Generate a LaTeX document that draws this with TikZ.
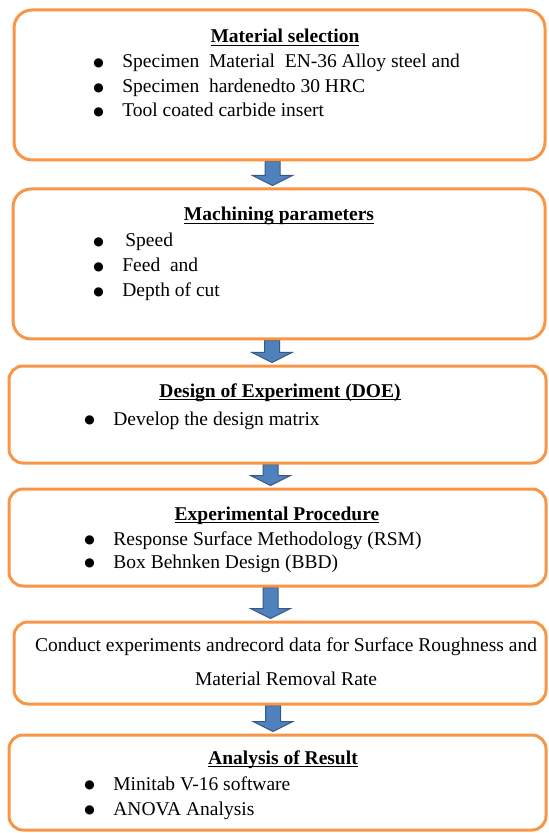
\documentclass[tikz,border=0pt]{standalone}
\usepackage{fontspec}
\setmainfont{Liberation Serif}
\newfontfamily\dotfont{DejaVu Sans}
\usepackage{tikz}
\usetikzlibrary{calc,fit,backgrounds}
\definecolor{stageorange}{HTML}{F79646}
\definecolor{flowblue}{HTML}{4F81BD}
\newcommand{\stagefont}{\fontsize{9.75}{12.25}\selectfont}
% underline at a fixed depth below the baseline
\newcommand{\stageul}[1]{\setbox0\hbox{#1}\rlap{\rule[-1.6pt]{\wd0}{0.55pt}}\box0}
\newcommand{\stagebullet}{\raisebox{0.6pt}{\dotfont\fontsize{6}{6}\selectfont ●}}
\tikzset{
  stage/.style       = {draw=stageorange, line width=1.5pt, fill=white,
                        rounded corners=9pt, inner sep=0pt},
  small stage/.style = {stage, rounded corners=7pt},
  stage title/.style = {anchor=base, inner sep=0pt, font=\stagefont\bfseries},
  stage list/.style  = {anchor=base west, inner sep=0pt, font=\stagefont},
  stage text/.style  = {anchor=base, inner sep=0pt, font=\stagefont, align=center},
  flow arrow/.style  = {fill=flowblue, draw=flowblue!70!black, line width=0.5pt},
}
% block arrow from the bottom of one stage down to the top of the next
\newcommand{\flowarrow}[2]{%
  \draw[flow arrow] let \p1 = ($(#1.south)+(-7,0)$), \p2 = (#2.north) in
    ({\x1-3.75pt},\y1) -- ({\x1-3.75pt},{\y2+6pt}) -- ({\x1-10pt},{\y2+6pt})
    -- (\x1,{\y2+1pt}) -- ({\x1+10pt},{\y2+6pt}) -- ({\x1+3.75pt},{\y2+6pt})
    -- ({\x1+3.75pt},\y1) -- cycle;}

\begin{document}
\begin{tikzpicture}[x=0.5pt, y=-0.5pt]
  \useasboundingbox (0,0) rectangle (548,833);

  % stages
  \node[stage, fit={(14,10) (545,160)}] (mat) {};
  \node[stage, fit={(13,189) (545,339)}] (mach) {};
  \node[small stage, fit={(9,366) (546,463)}] (doe) {};
  \node[small stage, fit={(9,489) (546,586)}] (proc) {};
  \node[small stage, fit={(14,622) (546,704)}] (run) {};
  \node[small stage, fit={(9,735) (546,830)}] (res) {};

  % material selection
  \node[stage title] (mat title) at (285,43) {\stageul{Material selection}};
  \node[stage list] (mat list) at (93,68) {%
    \begin{tabular}[t]{@{}p{14.5pt}@{}l@{}}
      \stagebullet & Specimen\ \ Material\ \ EN-36 Alloy steel and\\
      \stagebullet & Specimen\ \ hardenedto 30 HRC\\
      \stagebullet & Tool coated carbide insert
    \end{tabular}};

  % machining parameters
  \node[stage title] (mach title) at (279,221) {\stageul{Machining parameters}};
  \node[stage list] (mach list) at (93,247) {%
    \begin{tabular}[t]{@{}p{14.5pt}@{}l@{}}
      \stagebullet & \hspace{1.5pt}Speed\\[0.25pt]
      \stagebullet & Feed\ \ and\\[0.25pt]
      \stagebullet & Depth of cut
    \end{tabular}};

  % design of experiment
  \node[stage title] (doe title) at (280,397) {\stageul{Design of Experiment (DOE)}};
  \node[stage list] (doe list) at (84,425) {%
    \begin{tabular}[t]{@{}p{14.5pt}@{}l@{}}
      \stagebullet & Develop the design matrix
    \end{tabular}};

  % experimental procedure
  \node[stage title] (proc title) at (277,520) {\stageul{Experimental Procedure}};
  \node[stage list] (proc list) at (84,545) {%
    \begin{tabular}[t]{@{}p{14.5pt}@{}l@{}}
      \stagebullet & Response Surface Methodology (RSM)\\[-0.75pt]
      \stagebullet & Box Behnken Design (BBD)
    \end{tabular}};

  % experiments
  \node[stage text] (run text) at (286,651) {%
    \begin{tabular}[t]{@{}c@{}}
      Conduct experiments andrecord data for Surface Roughness and\\[4.75pt]
      Material Removal Rate
    \end{tabular}};

  % analysis
  \node[stage title] (res title) at (283,764) {\stageul{Analysis of Result}};
  \node[stage list] (res list) at (84,790) {%
    \begin{tabular}[t]{@{}p{14.5pt}@{}l@{}}
      \stagebullet & Minitab V-16 software\\[0.25pt]
      \stagebullet & ANOVA Analysis
    \end{tabular}};

  \begin{scope}[on background layer]
    \flowarrow{mat}{mach}
    \flowarrow{mach}{doe}
    \flowarrow{doe}{proc}
    \flowarrow{proc}{run}
    \flowarrow{run}{res}
  \end{scope}
\end{tikzpicture}
\end{document}
